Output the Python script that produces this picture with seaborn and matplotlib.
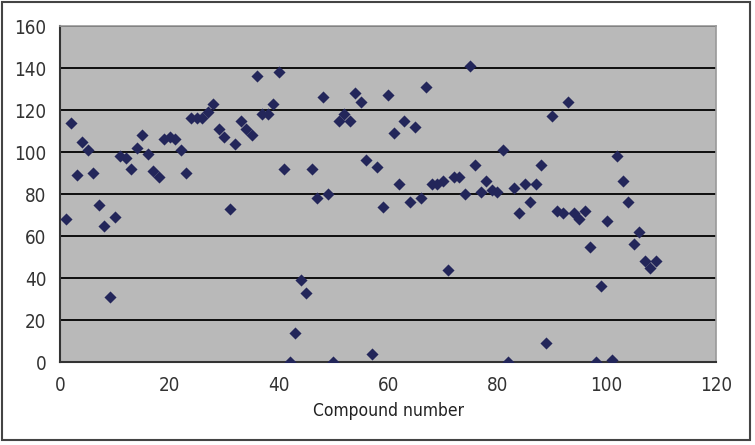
import numpy as np
import pandas as pd
import matplotlib.pyplot as plt
import matplotlib.patches as patches
import seaborn as sns

# Values, one per compound (1..109)
compound = list(range(1, 110))
value = [
    68, 114, 89, 105, 101, 90, 75, 65, 31, 69,
    98, 97, 92, 102, 108, 99, 91, 88, 106, 107,
    106, 101, 90, 116, 116, 116, 119, 123, 111, 107,
    73, 104, 115, 111, 108, 136, 118, 118, 123, 138,
    92, 0, 14, 39, 33, 92, 78, 126, 80, 0,
    115, 118, 115, 128, 124, 96, 4, 93, 74, 127,
    109, 85, 115, 76, 112, 78, 131, 85, 85, 86,
    44, 88, 88, 80, 141, 94, 81, 86, 82, 81,
    101, 0, 83, 71, 85, 76, 85, 94, 9, 117,
    72, 71, 124, 71, 68, 72, 55, 0, 36, 67,
    1, 98, 86, 76, 56, 62, 48, 45, 48,
]
x_ticks = [0, 20, 40, 60, 80, 100, 120]
y_ticks = [0, 20, 40, 60, 80, 100, 120, 140, 160]

df = pd.DataFrame({"Compound number": compound, "Value": value})

sns.set_style("white")
plt.rcParams["font.family"] = ["DejaVu Sans"]
plt.rcParams["font.stretch"] = "condensed"

fig = plt.figure(figsize=(7.55, 4.45), dpi=100)
ax = fig.add_axes([0.080, 0.1865, 0.868, 0.755])
ax.set_facecolor("#b9b9b9")

sns.scatterplot(data=df, x="Compound number", y="Value", ax=ax,
                marker="D", s=38, color="#23265a", edgecolor="#23265a",
                linewidth=0, zorder=3)

ax.set_xlim(0, 120)
ax.set_ylim(0, 160)
ax.set_xticks(x_ticks)
ax.set_yticks(y_ticks)
ax.yaxis.grid(True, color="black", linewidth=1.3)
ax.set_axisbelow(True)
ax.set_ylabel("")
ax.set_xlabel("Compound number", fontsize=12.5, color="#222222", labelpad=5)
ax.tick_params(axis="both", labelsize=13.5, colors="#333333",
               length=6, width=1.2, direction="out", pad=4)

for side in ["left", "bottom"]:
    ax.spines[side].set_color("#333333")
    ax.spines[side].set_linewidth(1.5)
for side in ["top", "right"]:
    ax.spines[side].set_color("#999999")
    ax.spines[side].set_linewidth(1.2)

# outer frame around the whole chart
fig.patches.append(patches.Rectangle((0.003, 0.011), 0.991, 0.984,
                                     transform=fig.transFigure, fill=False,
                                     edgecolor="#444444", linewidth=1.5))

fig.savefig("out.png", dpi=100)
